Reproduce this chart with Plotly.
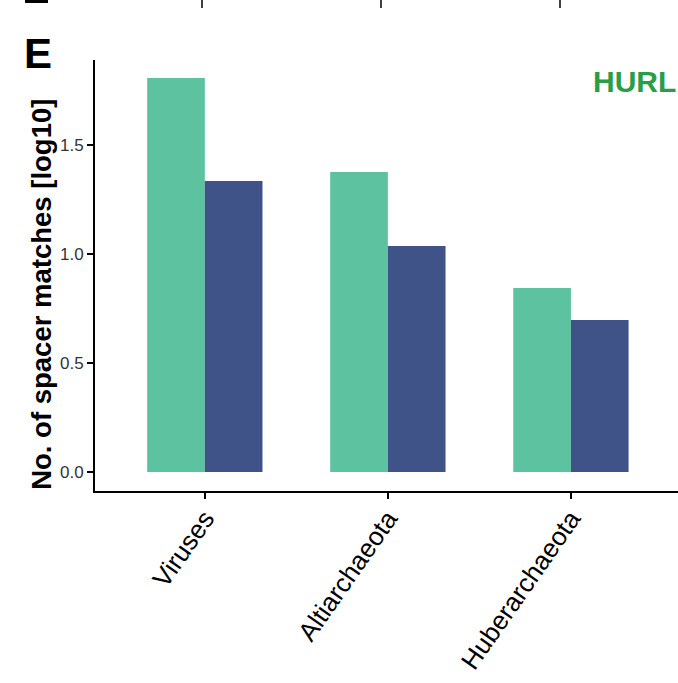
import plotly.graph_objects as go

categories = ["Viruses", "Altiarchaeota", "Huberarchaeota"]
series_a = [1.807, 1.376, 0.844]
series_b = [1.335, 1.037, 0.697]
y_ticks = [0.0, 0.5, 1.0, 1.5]
y_tick_labels = ["0.0", "0.5", "1.0", "1.5"]

fig = go.Figure()
fig.add_trace(go.Bar(x=categories, y=series_a, marker=dict(color="#5CC29F", line=dict(width=0)), showlegend=False))
fig.add_trace(go.Bar(x=categories, y=series_b, marker=dict(color="#3F5389", line=dict(width=0)), showlegend=False))

fig.update_layout(
    width=678, height=683,
    margin=dict(l=95, r=0, t=60, b=192),
    plot_bgcolor="white", paper_bgcolor="white",
    barmode="group", bargap=0.37, bargroupgap=0,
    font=dict(family="Liberation Sans, Arial, sans-serif", color="black"),
    xaxis=dict(
        range=[-0.6, 2.585], showline=True, linecolor="black", linewidth=2,
        ticks="outside", ticklen=6, tickwidth=1.5, tickcolor="black",
        tickangle=-55, tickfont=dict(size=26, color="black"), showgrid=False,
        ticklabelstandoff=-6,
    ),
    yaxis=dict(
        range=[-0.087, 1.89], showline=True, linecolor="black", linewidth=2,
        ticks="outside", ticklen=6, tickwidth=1.5, tickcolor="black",
        tickvals=y_ticks, ticktext=y_tick_labels,
        tickfont=dict(size=17, color="#333333"), showgrid=False, zeroline=False,
    ),
    annotations=[
        dict(text="<b>No. of spacer matches [log10]</b>", xref="paper", yref="paper",
             x=-0.092, y=0.456, xanchor="center", yanchor="middle", textangle=-90,
             showarrow=False, font=dict(size=27.5, color="black")),
        dict(text="<b>E</b>", xref="paper", yref="paper", x=-0.0978, y=1.016,
             xanchor="center", yanchor="middle", showarrow=False,
             font=dict(size=42, color="black")),
        dict(text="<b>HURL</b>", xref="paper", yref="paper", x=1.0, y=0.950,
             xanchor="right", yanchor="middle", showarrow=False,
             font=dict(size=30, color="#2A9D48")),
    ],
)

# fragment of previous panel at top
for xp in [202, 381, 560]:
    fig.add_shape(type="line", xref="paper", yref="paper",
                  x0=(xp - 95) / 583, x1=(xp - 95) / 583,
                  y0=(431 + 60) / 431, y1=(431 + 60 - 8) / 431,
                  line=dict(color="black", width=1.5))
fig.add_shape(type="rect", xref="paper", yref="paper",
              x0=(25 - 95) / 583, x1=(48 - 95) / 583,
              y0=(431 + 60) / 431, y1=(431 + 57) / 431,
              fillcolor="black", line=dict(width=0))

fig.write_html("out.html")
